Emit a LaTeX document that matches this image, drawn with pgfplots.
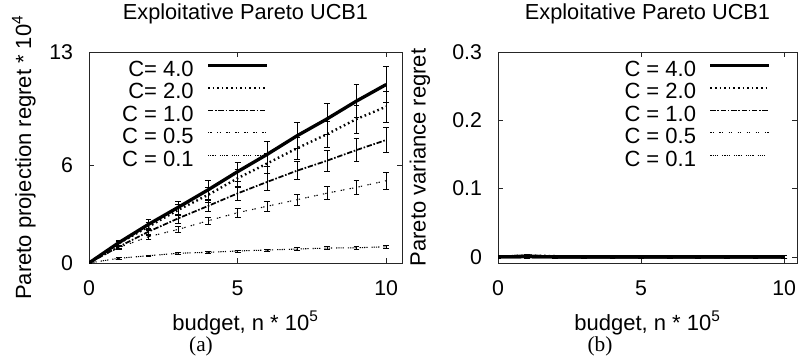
\documentclass[border=0pt]{standalone}
\usepackage{fontspec}
\setmainfont{Liberation Sans}
\newfontfamily\capfont{Liberation Serif}
\usepackage{pgfplots}
\usepackage{pgfplotstable}
\pgfplotsset{compat=1.18}

\pgfplotstableread{
x y e
0 0 0
1 1.25 0.15
2 2.38 0.30
3 3.43 0.40
4 4.50 0.57
5 5.63 0.60
6 6.70 0.77
7 7.84 0.80
8 8.87 0.97
9 9.98 1.00
10 11.00 1.10
}\dataA
\pgfplotstableread{
x y e
0 0 0
1 1.21 0.12
2 2.24 0.25
3 3.27 0.35
4 4.19 0.45
5 5.22 0.55
6 6.14 0.60
7 7.07 0.70
8 7.93 0.80
9 8.87 0.85
10 9.63 0.94
}\dataB
\pgfplotstableread{
x y e
0 0 0
1 1.00 0.10
2 1.93 0.20
3 2.75 0.28
4 3.51 0.35
5 4.29 0.43
6 5.00 0.50
7 5.69 0.55
8 6.30 0.62
9 6.96 0.70
10 7.58 0.78
}\dataC
\pgfplotstableread{
x y e
0 0 0
1 0.95 0.08
2 1.62 0.13
3 2.07 0.18
4 2.60 0.20
5 3.10 0.26
6 3.50 0.30
7 3.90 0.35
8 4.30 0.40
9 4.66 0.45
10 5.07 0.50
}\dataD
\pgfplotstableread{
x y e
0 0 0
1 0.29 0.05
2 0.45 0.05
3 0.60 0.06
4 0.66 0.06
5 0.74 0.07
6 0.80 0.07
7 0.86 0.08
8 0.92 0.08
9 0.94 0.09
10 1.00 0.09
}\dataE

\pgfplotstableread{
x y e
0 0 0.002
1 0.0005 0.002
2 0 0.002
3 0 0.002
4 0 0.002
5 0 0.002
6 0 0.002
7 0 0.002
8 0 0.002
9 0 0.002
10 0 0.002
}\dataVA
\pgfplotstableread{
x y e
0 0 0.002
1 0.002 0.002
2 0.001 0.002
3 0.0005 0.002
4 0.0005 0.002
5 0.0003 0.002
6 0.0003 0.002
7 0.0002 0.002
8 0.0002 0.002
9 0.0002 0.002
10 0.0002 0.002
}\dataVB

\pgfplotsset{
  gp/.style={
    scale only axis,
    height=158.25pt,
    axis line style={line width=0.6pt, black!85},
    tick align=inside,
    major tick length=3.5pt,
    every tick/.style={black!85, line width=0.5pt},
    xtick={0,5,10},
    ymin=0,
    /pgf/number format/assume math mode=true,
    ticklabel style={font=\fontsize{16}{17}\selectfont},
    xticklabel style={anchor=base, yshift=-24pt},
    yticklabel style={anchor=east, inner sep=0pt, xshift=-11.8pt},
    label style={font=\fontsize{16.5}{18}\selectfont},
    xlabel style={at={(axis description cs:0.5,-0.3175)}, anchor=base},
    title style={font=\fontsize{16.3}{18}\selectfont, at={(axis description cs:0.5,1.118)}, anchor=base},
    legend style={draw=none, fill=none, inner sep=0pt, font=\fontsize{16.5}{18}\selectfont,
      nodes={inner sep=0pt, text height=12.2pt, text depth=4.6pt},
      /tikz/column sep=9.5pt},
    legend cell align=right,
    legend plot pos=right,
    legend image code/.code={\draw[#1] (0pt,4.4pt) -- (44pt,4.4pt);},
    error bars/error bar style={line width=0.45pt, black, solid},
    error bars/error mark options={rotate=90, mark size=2.2pt, line width=0.45pt, black, solid},
  },
  c4/.style={black, line width=2.5pt, solid},
  c2/.style={black, line width=1.8pt, dash pattern=on 1.2pt off 2.25pt},
  c1/.style={black, line width=1.3pt, dash pattern=on 4pt off 1.3pt on 1.2pt off 1.3pt},
  c05/.style={black, line width=0.8pt, dash pattern=on 1pt off 0.8pt on 1pt off 4pt},
  c01/.style={black, line width=0.8pt, dash pattern=on 0.9pt off 0.75pt on 0.9pt off 0.75pt on 0.9pt off 0.75pt on 0.9pt off 3pt},
}

\begin{document}
\begin{tikzpicture}
\path[use as bounding box] (0,0) rectangle (598.5pt,268.5pt);

\begin{axis}[gp,
  at={(66.75pt,71.25pt)}, anchor=south west,
  width=234.75pt,
  xmin=0, xmax=10.53, ymax=13,
  ytick={0,6,13},
  title={Exploitative Pareto UCB1},
  xlabel={budget, n * 10\textsuperscript{5}},
  ylabel={Pareto projection regret * 10\textsuperscript{4}},
  ylabel style={at={(axis description cs:-0.208,0.5)}, anchor=center},
  legend style={at={(axis description cs:0.574,0.962)}, anchor=north east},
]
\addplot[c4, error bars/.cd, y dir=both, y explicit] table[x=x, y=y, y error=e] {\dataA};
\addlegendentry{C= 4.0}
\addplot[c2, error bars/.cd, y dir=both, y explicit] table[x=x, y=y, y error=e] {\dataB};
\addlegendentry{C= 2.0}
\addplot[c1, error bars/.cd, y dir=both, y explicit] table[x=x, y=y, y error=e] {\dataC};
\addlegendentry{C = 1.0}
\addplot[c05, error bars/.cd, y dir=both, y explicit] table[x=x, y=y, y error=e] {\dataD};
\addlegendentry{C = 0.5}
\addplot[c01, error bars/.cd, y dir=both, y explicit] table[x=x, y=y, y error=e] {\dataE};
\addlegendentry{C = 0.1}
\end{axis}

\begin{axis}[gp,
  at={(373.5pt,71.25pt)}, anchor=south west,
  width=224.25pt,
  xmin=0, xmax=10.45, ymin=-0.009, ymax=0.3,
  ytick={0,0.1,0.2,0.3},
  yticklabel style={/pgf/number format/fixed, /pgf/number format/precision=1},
  title={Exploitative Pareto UCB1},
  xlabel={budget, n * 10\textsuperscript{5}},
  ylabel={Pareto variance regret},
  ylabel style={at={(axis description cs:-0.261,0.5)}, anchor=center},
  legend style={at={(axis description cs:0.913,0.962)}, anchor=north east},
]
\addplot[c4, error bars/.cd, y dir=both, y explicit] table[x=x, y=y, y error=e] {\dataVA};
\addlegendentry{C = 4.0}
\addplot[c2, error bars/.cd, y dir=both, y explicit] table[x=x, y=y, y error=e] {\dataVB};
\addlegendentry{C = 2.0}
\addplot[c1, error bars/.cd, y dir=both, y explicit] table[x=x, y=y, y error=e] {\dataVB};
\addlegendentry{C = 1.0}
\addplot[c05, error bars/.cd, y dir=both, y explicit] table[x=x, y=y, y error=e] {\dataVB};
\addlegendentry{C = 0.5}
\addplot[c01, error bars/.cd, y dir=both, y explicit] table[x=x, y=y, y error=e] {\dataVB};
\addlegendentry{C = 0.1}
\addplot[c4, forget plot] table[x=x, y=y] {\dataVA};
\end{axis}

\node[font=\capfont\fontsize{16}{18}\selectfont, anchor=center] at (150.75pt,9pt) {(a)};
\node[font=\capfont\fontsize{16}{18}\selectfont, anchor=center] at (450pt,9pt) {(b)};
\end{tikzpicture}
\end{document}
